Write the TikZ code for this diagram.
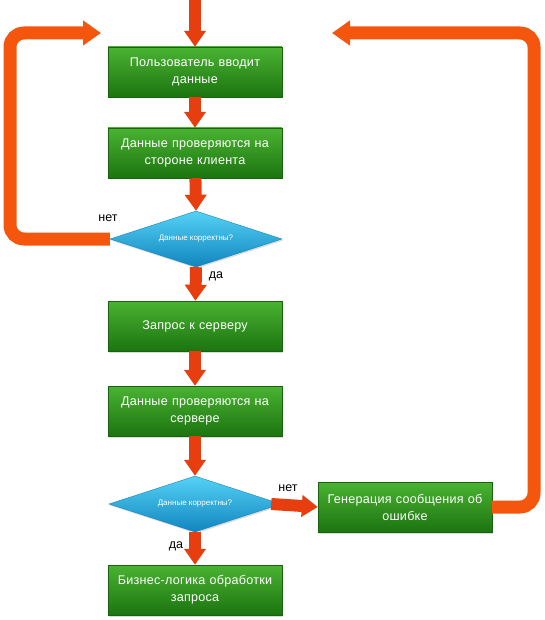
\documentclass[tikz,border=0pt]{standalone}
\usepackage{fontspec}
\setmainfont{Liberation Sans}
\usetikzlibrary{arrows.meta,shapes.geometric,shadows}
\definecolor{boxtop}{HTML}{4AB332}
\definecolor{boxbot}{HTML}{1C7410}
\definecolor{dtop}{HTML}{55D2F6}
\definecolor{dbot}{HTML}{1185BE}
\definecolor{arr}{HTML}{E63E0E}
\definecolor{looparr}{HTML}{F4560E}

\begin{document}
\begin{tikzpicture}[x=1pt,y=-1pt,
  stepbox/.style={rectangle,minimum width=174pt,minimum height=50pt,inner sep=2pt,
    top color=boxtop,bottom color=boxbot,draw=boxbot!85!black,line width=0.4pt,
    text=white,font=\fontsize{12.6}{17}\selectfont\addfontfeature{LetterSpace=2},
    align=center,text width=168pt,
    drop shadow={opacity=0.3,shadow xshift=1pt,shadow yshift=-1.5pt}},
  checkbox/.style={diamond,minimum width=172pt,minimum height=56pt,inner sep=0pt,aspect=3,
    top color=dtop,bottom color=dbot,draw=dbot,line width=0.4pt,
    text=white,font=\fontsize{8}{9}\selectfont,
    drop shadow={opacity=0.3,shadow xshift=1pt,shadow yshift=-1.5pt}},
  flow/.style={draw=arr,line width=12pt,-{Triangle[width=21pt,length=16pt]}},
  backflow/.style={draw=looparr,line width=13pt,rounded corners=14pt,
    -{Triangle[width=24pt,length=18pt]}},
  lbl/.style={font=\fontsize{12.5}{14}\selectfont,text=black}]
  \useasboundingbox (0,0) rectangle (545,620);
  \coordinate (start) at (195,0);
  \coordinate (back1) at (101,33);
  \coordinate (back2) at (332,33);
  \node[stepbox] (input) at (195,72) {Пользователь вводит\\данные};
  \node[stepbox] (client) at (195,153) {Данные проверяются на\\стороне клиента};
  \node[checkbox] (chk1) at (196,239) {Данные корректны?};
  \node[stepbox] (req) at (195,326) {Запрос к серверу};
  \node[stepbox] (server) at (195,411) {Данные проверяются на\\сервере};
  \node[checkbox] (chk2) at (195,504) {Данные корректны?};
  \node[stepbox] (logic) at (195,590) {Бизнес-логика обработки\\запроса};
  \node[stepbox] (gen) at (405,507) {Генерация сообщения об\\ошибке};
  \draw[flow] (start) -- (input.north);
  \draw[flow] (input) -- (client);
  \draw[flow] (client) -- (chk1.north);
  \draw[flow] (chk1.south) -- (req);
  \draw[flow] (req) -- (server);
  \draw[flow] (server) -- (chk2.north);
  \draw[flow] (chk2.south) -- (logic);
  \draw[flow] ([xshift=-10pt]chk2.east) -- (gen.west);
  \draw[backflow] (chk1.west) -| (10,33) -- (back1);
  \draw[backflow] (gen.east) -| (534,33) -- (back2);
  \node[lbl] (no1) at (108,218) {нет};
  \node[lbl] (yes1) at (216,276) {да};
  \node[lbl] (no2) at (288,488) {нет};
  \node[lbl] (yes2) at (176,546) {да};
\end{tikzpicture}
\end{document}
